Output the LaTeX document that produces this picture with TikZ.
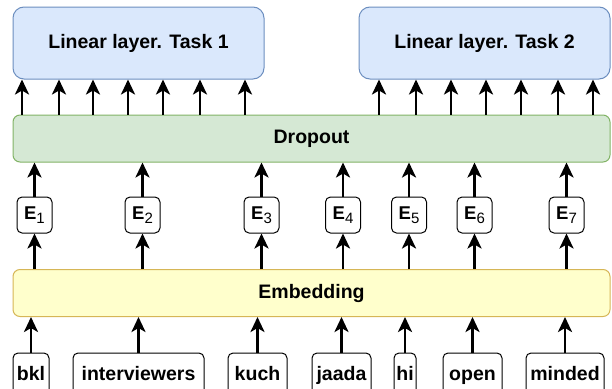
\documentclass[tikz,border=0pt]{standalone}
\usepackage{fontspec}
\setmainfont{Liberation Sans}
\usepackage{xcolor}
\usepackage{tikz}
\usetikzlibrary{arrows.meta,calc,positioning}
\definecolor{taskfill}{HTML}{DAE8FC}
\definecolor{taskline}{HTML}{6C8EBF}
\definecolor{dropfill}{HTML}{D5E8D4}
\definecolor{dropline}{HTML}{82B366}
\definecolor{embfill}{HTML}{FFFFCC}
\definecolor{embline}{HTML}{D6B656}
\tikzset{
  task/.style={draw=taskline, fill=taskfill, line width=1pt, rounded corners=11pt, minimum width=251pt, minimum height=72pt, align=center, font=\fontsize{19.5}{22}\selectfont\bfseries},
  layer/.style={draw, line width=1pt, rounded corners=7pt, minimum width=597pt, minimum height=47pt, align=center, font=\fontsize{19.5}{22}\selectfont\bfseries},
  emb/.style={draw, line width=1pt, rounded corners=5pt, minimum width=35pt, minimum height=36pt, inner sep=1pt, font=\fontsize{18.5}{20}\selectfont},
  word/.style={draw, line width=1pt, rounded corners=5pt, minimum height=44pt, text height=14.5pt, text depth=4.5pt, inner sep=1pt, font=\fontsize{19.5}{22}\selectfont\bfseries},
  flow/.style={-{Stealth[length=15pt,width=14pt,inset=4pt]}, line width=2.8pt}
}
\newcommand{\embvec}[1]{\textbf{E}{\fontsize{15}{15}\selectfont\raisebox{-3.5pt}{#1}}}

\begin{document}
\begin{tikzpicture}[x=1pt,y=-1pt]
  \useasboundingbox (0,0) rectangle (612,388);

  \node[task] (task1) at (138.5,43) {Linear layer. Task 1};
  \node[task] (task2) at (484.5,43) {Linear layer. Task 2};
  \node[layer, draw=dropline, fill=dropfill] (dropout) at (311.5,138.5) {Dropout};
  \node[layer, draw=embline, fill=embfill] (embedding) at (311.5,293) {Embedding};

  \node[emb] (e1) at (34.5,215) {\embvec{1}};
  \node[emb] (e2) at (142.5,215) {\embvec{2}};
  \node[emb] (e3) at (261.5,215) {\embvec{3}};
  \node[emb] (e4) at (343,215) {\embvec{4}};
  \node[emb] (e5) at (409,215) {\embvec{5}};
  \node[emb] (e6) at (474.5,215) {\embvec{6}};
  \node[emb] (e7) at (566.5,215) {\embvec{7}};

  \node[word, minimum width=36pt] (w1) at (31,375) {bkl};
  \node[word, minimum width=131pt] (w2) at (138.5,375) {interviewers};
  \node[word, minimum width=59pt] (w3) at (257.5,375) {kuch};
  \node[word, minimum width=59pt] (w4) at (341.5,375) {jaada};
  \node[word, minimum width=22pt] (w5) at (405,375) {hi};
  \node[word, minimum width=59pt] (w6) at (472.5,375) {open};
  \node[word, minimum width=78pt] (w7) at (565,375) {minded};

  % words -> embedding -> E -> dropout
  \foreach \i in {1,...,7} {
    \draw[flow] (w\i.north) -- (w\i.north |- embedding.south);
    \draw[flow] (e\i.south |- embedding.north) -- (e\i.south);
    \draw[flow] (e\i.north) -- (e\i.north |- dropout.south);
  }

  % dropout -> task heads
  \foreach \x in {22,59,93,128,163,200,245} {
    \draw[flow] (\x,0 |- dropout.north) -- (\x,0 |- task1.south);
  }
  \foreach \x in {379,416,451,486,521,558,593} {
    \draw[flow] (\x,0 |- dropout.north) -- (\x,0 |- task2.south);
  }
\end{tikzpicture}
\end{document}
